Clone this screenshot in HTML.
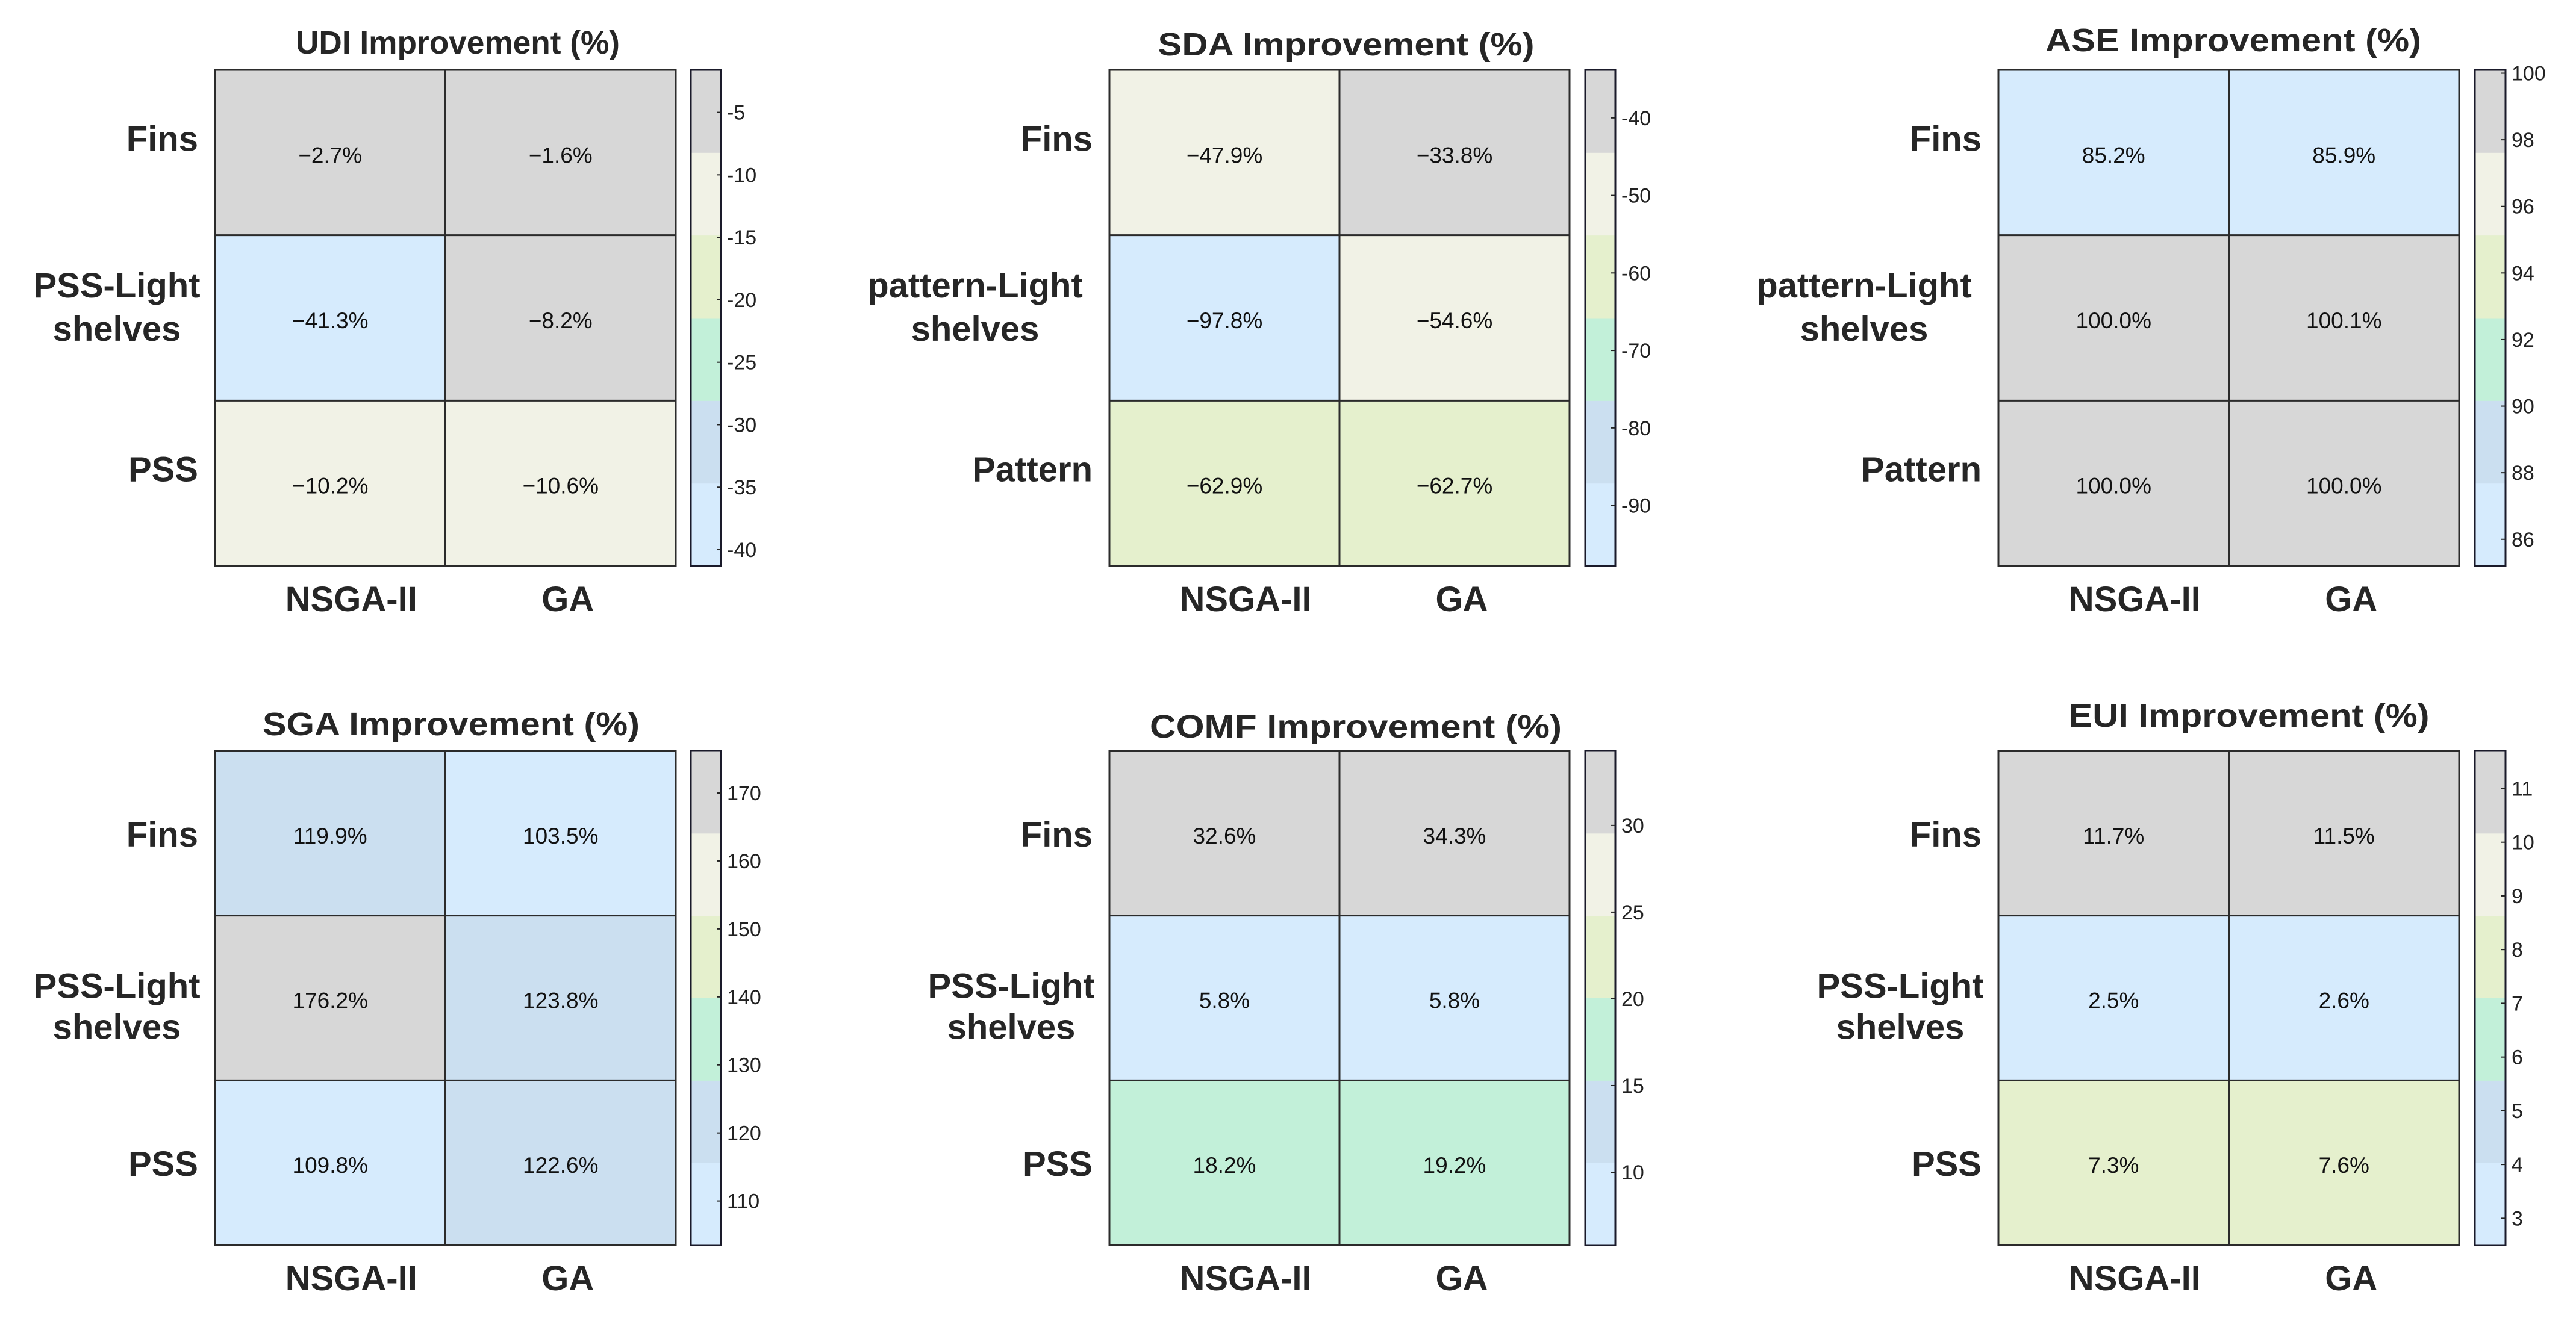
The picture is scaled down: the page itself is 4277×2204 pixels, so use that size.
<!DOCTYPE html>
<html><head><meta charset="utf-8">
<style>
html,body{margin:0;padding:0;background:#fff;}
svg{display:block;font-family:"Liberation Sans",Arial,sans-serif;}
</style></head>
<body>
<svg id="fig" width="4277" height="2204" viewBox="0 0 4277 2204" xmlns="http://www.w3.org/2000/svg"></svg>
<script>
const methods = ["NSGA-II","GA"];
const udiRows = ["Fins","PSS-Light|shelves","PSS"];
const udiValues = [[-2.7,-1.6],[-41.3,-8.2],[-10.2,-10.6]];
const udiTicks = [-40,-35,-30,-25,-20,-15,-10,-5];
const sdaRows = ["Fins","pattern-Light|shelves","Pattern"];
const sdaValues = [[-47.9,-33.8],[-97.8,-54.6],[-62.9,-62.7]];
const sdaTicks = [-90,-80,-70,-60,-50,-40];
const aseRows = ["Fins","pattern-Light|shelves","Pattern"];
const aseValues = [[85.2,85.9],[100.0,100.1],[100.0,100.0]];
const aseTicks = [86,88,90,92,94,96,98,100];
const sgaRows = ["Fins","PSS-Light|shelves","PSS"];
const sgaValues = [[119.9,103.5],[176.2,123.8],[109.8,122.6]];
const sgaTicks = [110,120,130,140,150,160,170];
const comfRows = ["Fins","PSS-Light|shelves","PSS"];
const comfValues = [[32.6,34.3],[5.8,5.8],[18.2,19.2]];
const comfTicks = [10,15,20,25,30];
const euiRows = ["Fins","PSS-Light|shelves","PSS"];
const euiValues = [[11.7,11.5],[2.5,2.6],[7.3,7.6]];
const euiTicks = [3,4,5,6,7,8,9,10,11];

const palette = ['#d6ebfd','#cbdff0','#c2f0d9','#e5f0cd','#f1f2e6','#d7d7d7'];
const NS = "http://www.w3.org/2000/svg";
const svg = document.getElementById('fig');
function mk(tag, attrs, parent){
  const e = document.createElementNS(NS, tag);
  for (const k in attrs) e.setAttribute(k, attrs[k]);
  (parent||svg).appendChild(e);
  return e;
}
function fmt(v){ return v.toFixed(1).replace('-', '\u2212') + '%'; }

const TY0 = 116, TY1 = 940, BY0 = 1247, BY1 = 2068;
const panels = [
  {key:'udi', title:'UDI Improvement (%)', rows:udiRows, vals:udiValues, ticks:udiTicks, x0:357, x1:1122, y0:TY0, y1:TY1, cb0:1147, cb1:1197, tx:760, tw:538, ty:89, top:true},
  {key:'sda', title:'SDA Improvement (%)', rows:sdaRows, vals:sdaValues, ticks:sdaTicks, x0:1842, x1:2606, y0:TY0, y1:TY1, cb0:2632, cb1:2682, tx:2235, tw:625, ty:92, top:true},
  {key:'ase', title:'ASE Improvement (%)', rows:aseRows, vals:aseValues, ticks:aseTicks, x0:3318, x1:4083, y0:TY0, y1:TY1, cb0:4109, cb1:4160, tx:3708, tw:624, ty:85, top:true},
  {key:'sga', title:'SGA Improvement (%)', rows:sgaRows, vals:sgaValues, ticks:sgaTicks, x0:357, x1:1122, y0:BY0, y1:BY1, cb0:1147, cb1:1197, tx:749, tw:626, ty:1221, top:false},
  {key:'comf', title:'COMF Improvement (%)', rows:comfRows, vals:comfValues, ticks:comfTicks, x0:1842, x1:2606, y0:BY0, y1:BY1, cb0:2632, cb1:2682, tx:2251, tw:684, ty:1225, top:false},
  {key:'eui', title:'EUI Improvement (%)', rows:euiRows, vals:euiValues, ticks:euiTicks, x0:3318, x1:4083, y0:BY0, y1:BY1, cb0:4109, cb1:4160, tx:3734, tw:599, ty:1207, top:false}
];

panels.forEach(p => {
  const g = mk('g', {});
  
  
  const flat = p.vals.flat();
  const vmin = Math.min(...flat), vmax = Math.max(...flat);
  const nR = p.rows.length, nC = methods.length;
  const cw = (p.x1 - p.x0) / nC, rh = (p.y1 - p.y0) / nR;
  const colorOf = v => { let b = Math.floor((v - vmin) / (vmax - vmin) * palette.length); if (b >= palette.length) b = palette.length - 1; if (b < 0) b = 0; return palette[b]; };
  const yScale = v => p.y1 - (v - vmin) / (vmax - vmin) * (p.y1 - p.y0);

  const t = mk('text', {x:p.tx, y:p.ty, 'text-anchor':'middle', 'font-size':54, 'font-weight':'bold', fill:'#262626', textLength:p.tw, lengthAdjust:'spacingAndGlyphs'}, g);
  t.textContent = p.title;
  
  

  for (let r = 0; r < nR; r++) for (let c = 0; c < nC; c++) {
    const v = p.vals[r][c];
    const cell = mk('rect', {x:p.x0 + c*cw, y:p.y0 + r*rh, width:cw, height:rh, fill:colorOf(v)}, g);
    
    
    const vt = mk('text', {x:p.x0 + (c+0.5)*cw, y:p.y0 + (r+0.5)*rh + 17, 'text-anchor':'middle', 'font-size':37, fill:'#111'}, g);
    vt.textContent = fmt(v);
    
    
  }
  for (let r = 1; r < nR; r++) mk('line', {x1:p.x0, x2:p.x1, y1:p.y0 + r*rh, y2:p.y0 + r*rh, stroke:'#2b2b2b', 'stroke-width':3}, g);
  for (let c = 1; c < nC; c++) mk('line', {x1:p.x0 + c*cw, x2:p.x0 + c*cw, y1:p.y0, y2:p.y1, stroke:'#2b2b2b', 'stroke-width':3}, g);
  mk('rect', {x:p.x0, y:p.y0, width:p.x1-p.x0, height:p.y1-p.y0, fill:'none', stroke:'#2b2b2b', 'stroke-width':3}, g);
  if (!p.top) {
    mk('line', {x1:p.x0, x2:p.x1, y1:p.y0, y2:p.y0, stroke:'#2b2b2b', 'stroke-width':4}, g);
    mk('line', {x1:p.x0, x2:p.x1, y1:p.y1, y2:p.y1, stroke:'#2b2b2b', 'stroke-width':4}, g);
  }

  p.rows.forEach((lab, r) => {
    const cy = p.y0 + (r+0.5)*rh;
    const parts = lab.split('|');
    const rx = p.x0 - 28;
    if (parts.length === 1) {
      const lt = mk('text', {x:rx, y:cy + (p.top ? -3 : 22), 'text-anchor':'end', 'font-size':58, 'font-weight':'bold', fill:'#262626'}, g);
      lt.textContent = lab;
      
      
    } else {
      const offs = p.top ? [-34, 38] : [0, 68];
      const lt = mk('text', {'text-anchor':'middle', 'font-size':58, 'font-weight':'bold', fill:'#262626'}, g);
      
      
      const w = parts[0].length * 30;
      parts.forEach((pt, i) => {
        const ts = mk('tspan', {x:rx - w/2, y:cy + offs[i]}, lt);
        ts.textContent = pt;
      });
    }
  });
  const coff = [35, 12];
  methods.forEach((m, c) => {
    const ct = mk('text', {x:p.x0 + (c+0.5)*cw + coff[c], y:p.top ? 1015 : 2143, 'text-anchor':'middle', 'font-size':58, 'font-weight':'bold', fill:'#262626'}, g);
    ct.textContent = m;
    
    
  });

  const cbg = mk('g', {}, g);
  
  
  const bh = (p.y1 - p.y0) / palette.length;
  palette.forEach((col, i) => {
    mk('rect', {x:p.cb0, y:p.y1 - (i+1)*bh, width:p.cb1 - p.cb0, height:bh + 0.5, fill:col}, cbg);
  });
  mk('rect', {x:p.cb0, y:p.y0, width:p.cb1-p.cb0, height:p.y1-p.y0, fill:'none', stroke:'#1a1a2a', 'stroke-width':3}, cbg);
  p.ticks.forEach(tv => {
    const y = yScale(tv);
    mk('line', {x1:p.cb1 - 7, x2:p.cb1, y1:y, y2:y, stroke:'#222', 'stroke-width':2}, cbg);
    const tl = mk('text', {x:p.cb1 + 10, y:y + 12, 'font-size':34, fill:'#222'}, cbg);
    tl.textContent = String(tv);
    
    
  });
});
</script>
</body></html>
